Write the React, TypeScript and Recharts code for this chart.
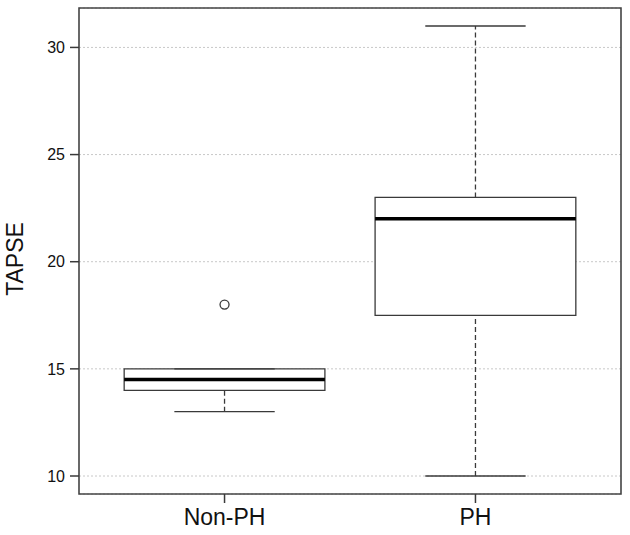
import React from "react";
import {
  CartesianGrid,
  ComposedChart,
  ReferenceArea,
  ReferenceLine,
  Scatter,
  XAxis,
  YAxis,
} from "recharts";

const groups = ["Non-PH", "PH"];
const lowWhisker = [13, 10];
const q1 = [14, 17.5];
const median = [14.5, 22];
const q3 = [15, 23];
const highWhisker = [15, 31];
const outliers = [{ x: 1, y: 18 }];
const yTicks = [10, 15, 20, 25, 30];

const INK = "#3a3a3a";
const GRID = "#c8c8c8";
const FONT = "'Liberation Sans', Arial, sans-serif";
const BOX_HALF = 0.4;
const CAP_HALF = 0.2;
const X_DOMAIN = [0.42, 2.58];
const Y_DOMAIN = [9.16, 31.84];

function OpenDot({ cx, cy }: any) {
  return <circle cx={cx} cy={cy} r={4.5} fill="none" stroke={INK} strokeWidth={1.3} />;
}

export default function App() {
  return (
    <div style={{ position: "absolute", left: 0, top: 0, fontFamily: FONT }}>
      <ComposedChart width={630} height={535} margin={{ top: 8, right: 9, bottom: 0, left: 0 }}>
        <CartesianGrid vertical={false} stroke={GRID} strokeDasharray="2 2" />
        <XAxis
          type="number"
          dataKey="x"
          domain={X_DOMAIN}
          ticks={[1, 2]}
          tickFormatter={(v) => groups[v - 1]}
          allowDataOverflow
          height={41}
          axisLine={false}
          tickLine={{ stroke: INK, strokeWidth: 1.5 }}
          tickSize={9}
          tickMargin={6}
          tick={{ fontSize: 23, fill: "#111", fontFamily: FONT }}
        />
        <YAxis
          type="number"
          dataKey="y"
          domain={Y_DOMAIN}
          ticks={yTicks}
          allowDataOverflow
          width={79}
          axisLine={false}
          tickLine={{ stroke: INK, strokeWidth: 1.5 }}
          tickSize={9}
          tickMargin={5}
          tick={{ fontSize: 16, fill: "#111", fontFamily: FONT }}
          label={{
            value: "TAPSE",
            angle: -90,
            position: "insideLeft",
            dx: 10,
            dy: 8,
            style: { fontSize: 23, fill: "#111", fontFamily: FONT, textAnchor: "middle" },
          }}
        />
        {groups.map((g, i) => {
          const x = i + 1;
          return (
            <React.Fragment key={g}>
              <ReferenceLine
                segment={[{ x, y: lowWhisker[i] }, { x, y: q1[i] }]}
                stroke={INK}
                strokeWidth={1.3}
                strokeDasharray="5 3"
              />
              <ReferenceLine
                segment={[{ x, y: q3[i] }, { x, y: highWhisker[i] }]}
                stroke={INK}
                strokeWidth={1.3}
                strokeDasharray="5 3"
              />
              <ReferenceLine
                segment={[{ x: x - CAP_HALF, y: lowWhisker[i] }, { x: x + CAP_HALF, y: lowWhisker[i] }]}
                stroke={INK}
                strokeWidth={1.3}
              />
              <ReferenceLine
                segment={[{ x: x - CAP_HALF, y: highWhisker[i] }, { x: x + CAP_HALF, y: highWhisker[i] }]}
                stroke={INK}
                strokeWidth={1.3}
              />
              <ReferenceArea
                x1={x - BOX_HALF}
                x2={x + BOX_HALF}
                y1={q1[i]}
                y2={q3[i]}
                fill="#fff"
                fillOpacity={1}
                stroke={INK}
                strokeWidth={1.3}
              />
              <ReferenceLine
                segment={[{ x: x - BOX_HALF, y: median[i] }, { x: x + BOX_HALF, y: median[i] }]}
                stroke="#000"
                strokeWidth={3.5}
              />
            </React.Fragment>
          );
        })}
        <Scatter data={outliers} shape={<OpenDot />} isAnimationActive={false} />
        <ReferenceArea
          x1={X_DOMAIN[0]}
          x2={X_DOMAIN[1]}
          y1={Y_DOMAIN[0]}
          y2={Y_DOMAIN[1]}
          fill="none"
          stroke="#444"
          strokeWidth={1.6}
        />
      </ComposedChart>
    </div>
  );
}
